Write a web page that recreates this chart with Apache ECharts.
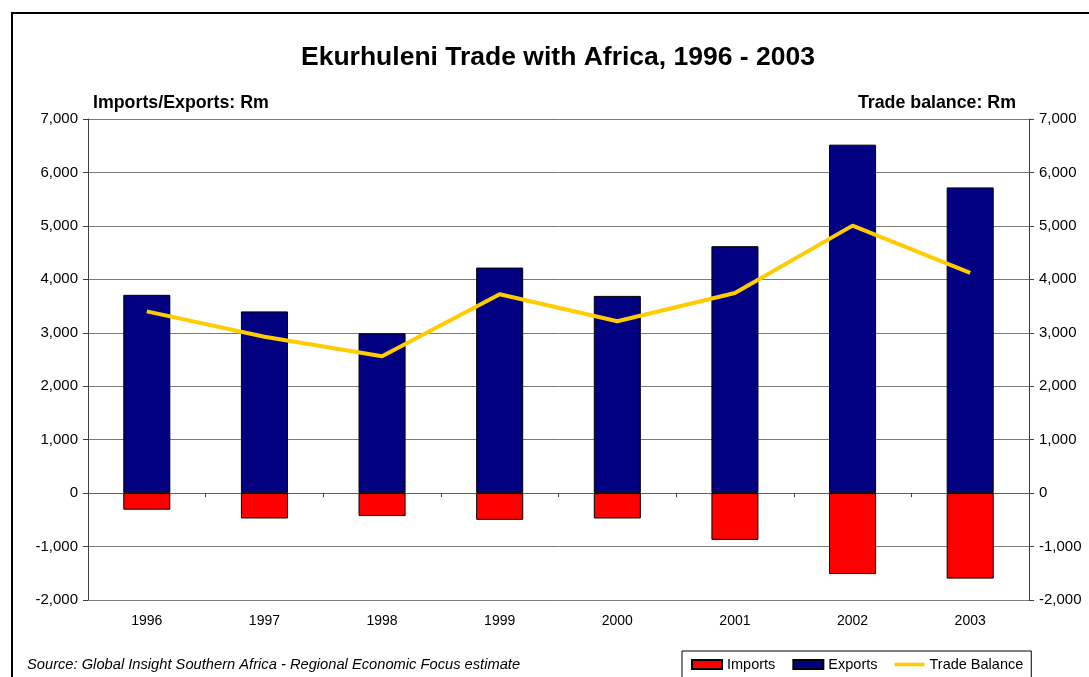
<!DOCTYPE html>
<html>
<head>
<meta charset="utf-8">
<script src="https://cdn.jsdelivr.net/npm/echarts@6/dist/echarts.min.js"></script>
<style>
  html, body { margin: 0; padding: 0; background: #ffffff; }
  #chart { width: 1089px; height: 677px; }
</style>
</head>
<body>
<div id="chart"></div>
<script>
// Ekurhuleni trade with Africa, values in Rand millions
const years = ['1996', '1997', '1998', '1999', '2000', '2001', '2002', '2003'];
const imports = [-310, -475, -430, -500, -475, -875, -1515, -1600];
const exports = [3710, 3400, 2990, 4220, 3690, 4620, 6520, 5720];
const tradeBalance = [3400, 2925, 2560, 3720, 3215, 3745, 5005, 4120];

const FONT = '"Liberation Sans", Arial, Helvetica, sans-serif';
const fmt = v => v.toLocaleString('en-US');

const chart = echarts.init(document.getElementById('chart'));

const valueAxis = (position, showGrid) => ({
  type: 'value',
  position: position,
  min: -2000,
  max: 7000,
  interval: 1000,
  axisLine: { show: true, lineStyle: { color: '#404040', width: 1 } },
  axisTick: { show: true, length: 5, lineStyle: { color: '#404040' } },
  axisLabel: {
    formatter: fmt,
    color: '#000000',
    fontFamily: FONT,
    fontSize: 15,
    margin: 10
  },
  splitLine: { show: showGrid, lineStyle: { color: '#7a7a7a', width: 1 } }
});

chart.setOption({
  backgroundColor: '#ffffff',
  animation: false,
  grid: { left: 88, right: 60, top: 119, bottom: 77, containLabel: false },
  xAxis: [
    {
      // axis crossing at zero: line and boundary ticks only
      type: 'category',
      data: years,
      position: 'bottom',
      axisLine: { show: true, onZero: true, onZeroAxisIndex: 0, lineStyle: { color: '#606060' } },
      axisTick: { show: true, length: 4, lineStyle: { color: '#404040' } },
      axisLabel: { show: false },
      splitLine: { show: false }
    },
    {
      // category labels along the bottom of the plot
      type: 'category',
      data: years,
      position: 'bottom',
      axisLine: { show: true, onZero: false, lineStyle: { color: '#808080' } },
      axisTick: { show: false },
      axisLabel: { color: '#000000', fontFamily: FONT, fontSize: 14, margin: 14 },
      splitLine: { show: false }
    }
  ],
  yAxis: [valueAxis('left', true), valueAxis('right', false)],
  legend: {
    data: [
      { name: 'Imports', icon: 'rect' },
      { name: 'Exports', icon: 'rect' },
      // plain bar-shaped line key (empty moves keep the full key height)
      { name: 'Trade Balance', icon: 'path://M0,0 L0,0 M0,2.5 L33,2.5 L33,6.5 L0,6.5 Z M33,9 L33,9' }
    ],
    left: 682,
    top: 651,
    orient: 'horizontal',
    padding: [6, 8, 20, 9],
    itemGap: 17,
    itemWidth: 30,
    itemHeight: 9,
    borderColor: '#000000',
    borderWidth: 1,
    backgroundColor: '#ffffff',
    textStyle: { color: '#000000', fontFamily: FONT, fontSize: 14.5 }
  },
  series: [
    {
      name: 'Imports',
      type: 'bar',
      stack: 'trade',
      xAxisIndex: 0,
      yAxisIndex: 0,
      barWidth: '40%',
      data: imports,
      itemStyle: { color: '#ff0000', borderColor: '#000000', borderWidth: 1 }
    },
    {
      name: 'Exports',
      type: 'bar',
      stack: 'trade',
      xAxisIndex: 0,
      yAxisIndex: 0,
      barWidth: '40%',
      data: exports,
      itemStyle: { color: '#000080', borderColor: '#000000', borderWidth: 1 }
    },
    {
      name: 'Trade Balance',
      type: 'line',
      xAxisIndex: 0,
      yAxisIndex: 1,
      data: tradeBalance,
      symbol: 'none',
      z: 5,
      lineStyle: { color: '#ffcc00', width: 4 },
      itemStyle: { color: '#ffcc00' }
    }
  ],
  graphic: [
    {
      type: 'rect',
      silent: true,
      z: 100,
      shape: { x: 12, y: 13, width: 1100, height: 700 },
      style: { fill: 'none', stroke: '#000000', lineWidth: 2 }
    },
    {
      type: 'text',
      x: 558, y: 57.5,
      style: {
        text: 'Ekurhuleni Trade with Africa, 1996 - 2003',
        fill: '#000000',
        font: 'bold 26.5px ' + FONT,
        textAlign: 'center',
        textVerticalAlign: 'middle'
      }
    },
    {
      type: 'text',
      x: 93, y: 103.5,
      style: {
        text: 'Imports/Exports: Rm',
        fill: '#000000',
        font: 'bold 17.8px ' + FONT,
        textAlign: 'left',
        textVerticalAlign: 'middle'
      }
    },
    {
      type: 'text',
      x: 1016, y: 103.5,
      style: {
        text: 'Trade balance: Rm',
        fill: '#000000',
        font: 'bold 17.8px ' + FONT,
        textAlign: 'right',
        textVerticalAlign: 'middle'
      }
    },
    {
      type: 'text',
      x: 27, y: 664.5,
      style: {
        text: 'Source: Global Insight Southern Africa - Regional Economic Focus estimate',
        fill: '#000000',
        font: 'italic 14.7px ' + FONT,
        textAlign: 'left',
        textVerticalAlign: 'middle'
      }
    }
  ]
});
</script>
</body>
</html>
